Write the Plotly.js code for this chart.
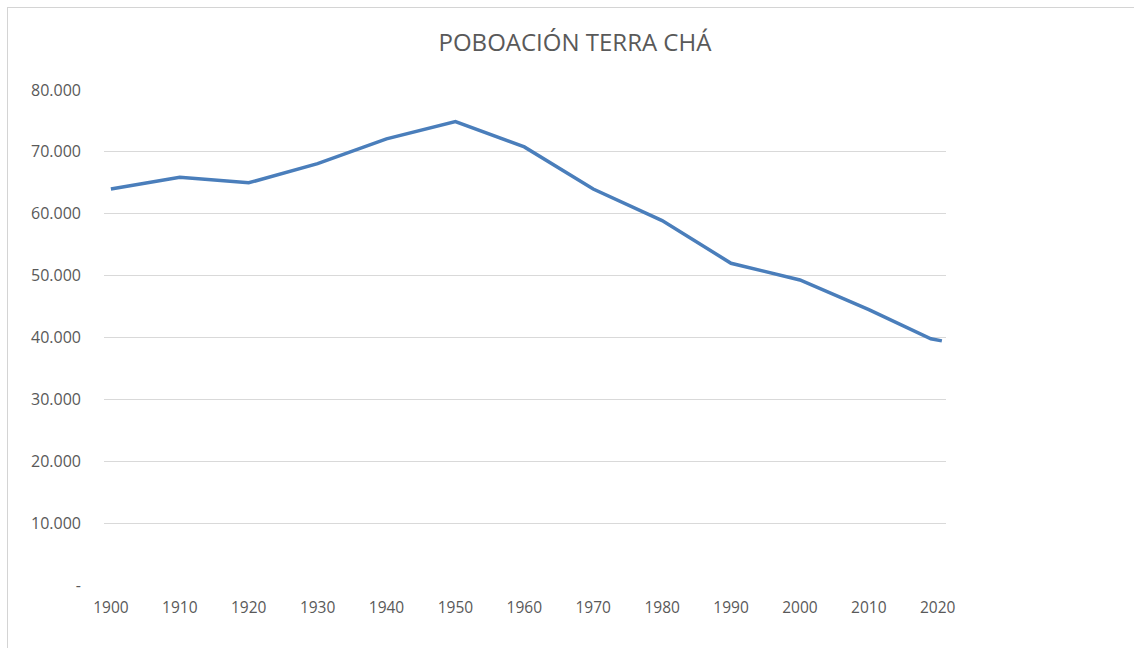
<!DOCTYPE html>
<html>
<head>
<meta charset="utf-8">
<script src="https://cdn.plot.ly/plotly-3.0.1.min.js"></script>
<style>
  html, body { margin: 0; padding: 0; background: #fff; }
  #wrap { position: relative; width: 1134px; height: 648px; overflow: hidden; }
  #chart { position: absolute; left: 0; top: 0; width: 1134px; height: 648px; }
  #frame { position: absolute; left: 7px; top: 7px; width: 1140px; height: 660px;
           border-top: 1px solid #d4d4d4; border-left: 1px solid #d4d4d4; pointer-events: none; }
</style>
</head>
<body>
<div id="wrap"><div id="chart"></div><div id="frame"></div></div>
<script>
const years = [1900, 1910, 1920, 1930, 1940, 1950, 1960, 1970, 1980, 1990, 2000, 2010, 2019, 2020.6];
const population = [64000, 65900, 65000, 68100, 72100, 74900, 70800, 64000, 58900, 52000, 49300, 44500, 39800, 39450];
const xTickVals = [1900, 1910, 1920, 1930, 1940, 1950, 1960, 1970, 1980, 1990, 2000, 2010, 2020];
const xTickText = ['1900', '1910', '1920', '1930', '1940', '1950', '1960', '1970', '1980', '1990', '2000', '2010', '2020'];
const yTickVals = [0, 10000, 20000, 30000, 40000, 50000, 60000, 70000, 80000];
const yTickText = ['-', '10.000', '20.000', '30.000', '40.000', '50.000', '60.000', '70.000', '80.000'];

const trace = {
  x: years, y: population, type: 'scatter', mode: 'lines',
  line: { color: '#4a7ebb', width: 3.5, shape: 'linear' },
  hoverinfo: 'x+y'
};
const layout = {
  width: 1134, height: 648,
  margin: { l: 104, r: 188, t: 90, b: 63 },
  paper_bgcolor: 'rgba(0,0,0,0)', plot_bgcolor: '#fff',
  font: { family: 'Open Sans, Lato, sans-serif', color: '#595959', size: 15 },
  title: { text: 'POBOACIÓN TERRA CHÁ', x: 0.507, xanchor: 'center', y: 0.934, yanchor: 'middle',
           font: { size: 24, color: '#595959', family: 'Open Sans, Lato, sans-serif' } },
  showlegend: false,
  xaxis: {
    range: [1899, 2021.2], tickvals: xTickVals, ticktext: xTickText,
    showgrid: false, zeroline: false, showline: false, ticks: '',
    tickfont: { size: 15.5, color: '#595959' }, ticklabelstandoff: 11
  },
  yaxis: {
    range: [0, 80000], tickvals: yTickVals, ticktext: yTickText,
    showgrid: true, gridcolor: '#d9d9d9', gridwidth: 1, zeroline: false, showline: false, ticks: '',
    tickfont: { size: 16, color: '#595959' }, ticklabelstandoff: 22
  }
};
Plotly.newPlot('chart', [trace], layout, { displayModeBar: false, staticPlot: true });
</script>
</body>
</html>
